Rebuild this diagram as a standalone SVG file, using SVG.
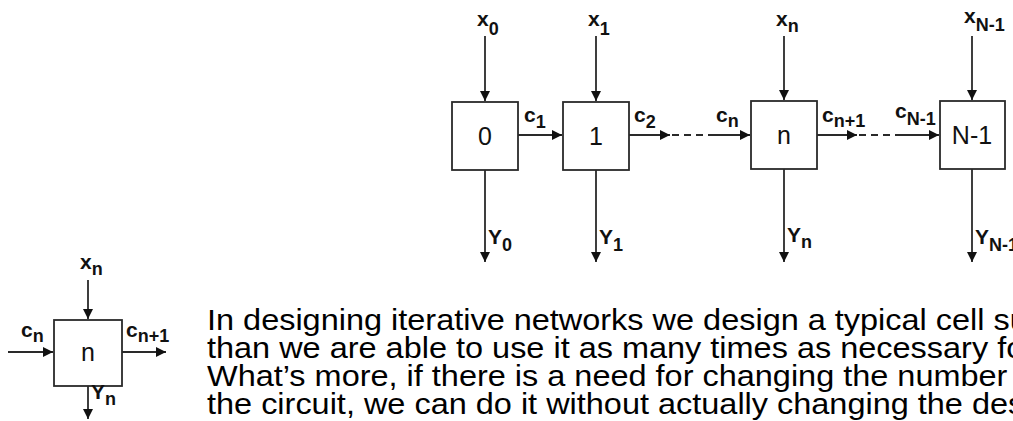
<svg xmlns="http://www.w3.org/2000/svg" width="1013" height="421" viewBox="0 0 1013 421">
  <style>
    .box { fill: #fff; stroke: #2a2a2a; stroke-width: 1.8; }
    .wire { fill: none; stroke: #2a2a2a; stroke-width: 1.8; }
    .dash { fill: none; stroke: #2a2a2a; stroke-width: 1.8; stroke-dasharray: 7 5; }
    .lbl { font-family: "Liberation Sans", Arial, sans-serif; font-size: 21px; font-weight: bold; fill: #111; }
    .sub { font-size: 18px; }
    .cell { font-family: "Liberation Sans", Arial, sans-serif; font-size: 25px; fill: #111; text-anchor: middle; }
    .body { font-family: "Liberation Sans", Arial, sans-serif; font-size: 29px; fill: #000; }
  </style>
  <defs>
    <marker id="arrow" viewBox="0 0 10 10" refX="10" refY="5" markerWidth="10" markerHeight="10" markerUnits="userSpaceOnUse" orient="auto">
      <path d="M0,0 L10,5 L0,10 Z" fill="#111"/>
    </marker>
  </defs>
  <rect width="1013" height="421" fill="#fff"/>

  <!-- chain of cells -->
  <g id="connectors">
    <!-- inputs x -->
    <line class="wire" x1="485" y1="36" x2="485" y2="101" marker-end="url(#arrow)"/>
    <line class="wire" x1="596" y1="36" x2="596" y2="101" marker-end="url(#arrow)"/>
    <line class="wire" x1="784" y1="36" x2="784" y2="100" marker-end="url(#arrow)"/>
    <line class="wire" x1="972" y1="36" x2="972" y2="100" marker-end="url(#arrow)"/>
    <!-- carries -->
    <line class="wire" x1="518" y1="135" x2="562" y2="135" marker-end="url(#arrow)"/>
    <line class="wire" x1="629" y1="135" x2="670" y2="135" marker-end="url(#arrow)"/>
    <line class="dash" x1="672" y1="135" x2="710" y2="135"/>
    <line class="wire" x1="710" y1="135" x2="750" y2="135" marker-end="url(#arrow)"/>
    <line class="wire" x1="817" y1="135" x2="857" y2="135" marker-end="url(#arrow)"/>
    <line class="dash" x1="859" y1="135" x2="897" y2="135"/>
    <line class="wire" x1="897" y1="135" x2="939" y2="135" marker-end="url(#arrow)"/>
    <!-- outputs Y -->
    <line class="wire" x1="485" y1="170" x2="485" y2="262" marker-end="url(#arrow)"/>
    <line class="wire" x1="596" y1="170" x2="596" y2="262" marker-end="url(#arrow)"/>
    <line class="wire" x1="784" y1="169" x2="784" y2="262" marker-end="url(#arrow)"/>
    <line class="wire" x1="972" y1="169" x2="972" y2="262" marker-end="url(#arrow)"/>
    <!-- single typical cell -->
    <line class="wire" x1="88" y1="280" x2="88" y2="319" marker-end="url(#arrow)"/>
    <line class="wire" x1="8" y1="352" x2="53" y2="352" marker-end="url(#arrow)"/>
    <line class="wire" x1="122" y1="352" x2="166" y2="352" marker-end="url(#arrow)"/>
    <line class="wire" x1="88" y1="386" x2="88" y2="419" marker-end="url(#arrow)"/>
  </g>

  <g id="cell-0">
    <rect class="box" x="452" y="102" width="66" height="68"/>
    <text class="cell" x="485" y="145">0</text>
  </g>
  <g id="cell-1">
    <rect class="box" x="563" y="102" width="66" height="68"/>
    <text class="cell" x="596" y="145">1</text>
  </g>
  <g id="cell-n">
    <rect class="box" x="751" y="101" width="66" height="68"/>
    <text class="cell" x="784" y="144">n</text>
  </g>
  <g id="cell-N-1">
    <rect class="box" x="940" y="101" width="65" height="68"/>
    <text class="cell" x="972" y="144">N-1</text>
  </g>
  <g id="cell-typical">
    <rect class="box" x="54" y="320" width="68" height="66"/>
    <text class="cell" x="88" y="361">n</text>
  </g>

  <!-- signal labels -->
  <g id="labels" class="lbl">
    <text x="477" y="26">x<tspan class="sub" dy="9">0</tspan></text>
    <text x="588" y="26">x<tspan class="sub" dy="9">1</tspan></text>
    <text x="776" y="26">x<tspan class="sub" dy="6">n</tspan></text>
    <text x="964" y="23">x<tspan class="sub" dy="8">N-1</tspan></text>

    <text x="524" y="122">c<tspan class="sub" dy="6">1</tspan></text>
    <text x="634" y="122">c<tspan class="sub" dy="6">2</tspan></text>
    <text x="716" y="122">c<tspan class="sub" dy="5">n</tspan></text>
    <text x="822" y="122">c<tspan class="sub" dy="5">n+1</tspan></text>
    <text x="895" y="118">c<tspan class="sub" dy="7">N-1</tspan></text>

    <text x="488" y="244">Y<tspan class="sub" dy="7">0</tspan></text>
    <text x="599" y="244">Y<tspan class="sub" dy="7">1</tspan></text>
    <text x="787" y="242">Y<tspan class="sub" dy="6">n</tspan></text>
    <text x="975" y="244">Y<tspan class="sub" dy="7">N-1</tspan></text>

    <text x="80" y="269">x<tspan class="sub" dy="6">n</tspan></text>
    <text x="21" y="337">c<tspan class="sub" dy="5">n</tspan></text>
    <text x="126" y="337">c<tspan class="sub" dy="5">n+1</tspan></text>
    <text x="91" y="399">Y<tspan class="sub" dy="6">n</tspan></text>
  </g>

  <!-- description -->
  <g id="description" class="body" transform="translate(207,0) scale(1.12,1)">
    <text x="0" y="330">In designing iterative networks we design a typical cell such that</text>
    <text x="0" y="358">than we are able to use it as many times as necessary for the task.</text>
    <text x="0" y="386">What’s more, if there is a need for changing the number of bits in</text>
    <text x="0" y="414">the circuit, we can do it without actually changing the design.</text>
  </g>
</svg>
